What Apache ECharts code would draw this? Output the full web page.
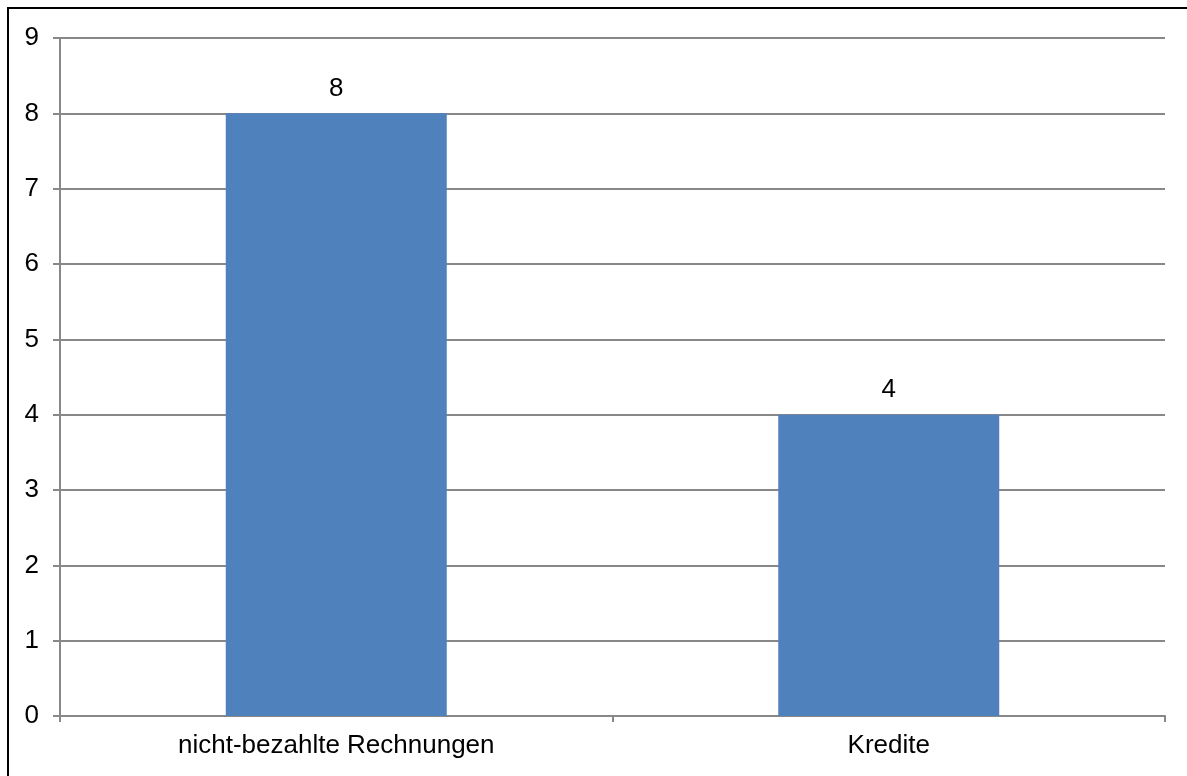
<!DOCTYPE html>
<html>
<head>
<meta charset="utf-8">
<script src="https://cdn.jsdelivr.net/npm/echarts@6/dist/echarts.min.js"></script>
<style>
  html, body { margin: 0; padding: 0; background: #fff; overflow: hidden; }
  #frame { position: absolute; left: 7px; top: 7px; width: 1300px; height: 900px;
           border-left: 2px solid #000; border-top: 2px solid #000; }
  #chart { position: absolute; left: 0; top: 0; width: 1187px; height: 776px; }
</style>
</head>
<body>
<div id="frame"></div>
<div id="chart"></div>
<script>
var categories = ['nicht-bezahlte Rechnungen', 'Kredite'];
var values = [8, 4];
var yTicks = [0, 1, 2, 3, 4, 5, 6, 7, 8, 9];

var myChart = echarts.init(document.getElementById('chart'));
var gridColor = '#888888';
var font = 'Liberation Sans, Arial, sans-serif';
var option = {
    animation: false,
    grid: { left: 60, right: 22, top: 38, bottom: 60 },
    xAxis: {
        type: 'category',
        data: categories,
        boundaryGap: true,
        axisLine: { lineStyle: { color: gridColor, width: 2 } },
        axisTick: { show: true, length: 6, lineStyle: { color: gridColor, width: 2 } },
        axisLabel: { color: '#000', fontSize: 20, fontFamily: font, margin: 20 }
    },
    yAxis: {
        type: 'value',
        min: yTicks[0],
        max: yTicks[yTicks.length - 1],
        interval: 1,
        axisLine: { show: true, lineStyle: { color: gridColor, width: 2 } },
        axisTick: { show: true, length: 7, lineStyle: { color: gridColor, width: 2 } },
        axisLabel: { color: '#000', fontSize: 20, fontFamily: font, margin: 20 },
        splitLine: { show: true, lineStyle: { color: gridColor, width: 2 } }
    },
    series: [{
        type: 'bar',
        data: values,
        barWidth: '40%',
        itemStyle: { color: '#4F81BD' },
        label: {
            show: true,
            position: 'top',
            distance: 14,
            color: '#000',
            fontSize: 20,
            fontFamily: font
        }
    }]
};
option.xAxis.axisLabel.fontSize = 26;
option.xAxis.axisLabel.margin = 17;
option.yAxis.axisLabel.fontSize = 26;
option.yAxis.axisLabel.margin = 21;
option.series[0].label.fontSize = 26;
option.series[0].label.distance = 12;
myChart.setOption(option);
</script>
</body>
</html>
